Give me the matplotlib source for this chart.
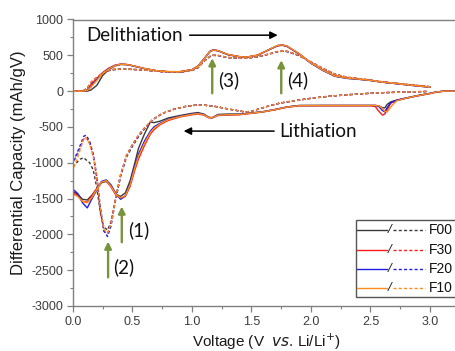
import matplotlib
matplotlib.use("Agg")
import matplotlib.pyplot as plt
from matplotlib.ticker import MultipleLocator
from matplotlib.patches import Rectangle
from matplotlib.lines import Line2D

plt.rcParams['axes.unicode_minus'] = False
plt.rcParams['font.family'] = ['Liberation Sans', 'DejaVu Sans']

# ---------------- data ----------------
series_names = ["F00", "F30", "F20", "F10"]
series_colors = ["#3a3a3a", "#ff1a1a", "#1f1fe6", "#ff8c1a"]

# solid lithiation (V descending)
v_lith_solid = [3.22, 3.12, 3.05, 3.00, 2.90, 2.80, 2.72, 2.67, 2.64, 2.62, 2.60, 2.57, 2.54, 2.50,
                2.30, 2.10, 1.90, 1.80, 1.70, 1.60, 1.50, 1.40, 1.30, 1.22, 1.17, 1.14, 1.10, 1.05,
                1.00, 0.90, 0.80, 0.73, 0.68, 0.65, 0.60, 0.55, 0.52, 0.48, 0.44, 0.40, 0.36, 0.32,
                0.28, 0.24, 0.20, 0.16, 0.12, 0.08, 0.04, 0.00]
lith_solid_F00 = [0, 0, -12, -30, -60, -95, -125, -150, -185, -235, -230, -205, -200, -200,
                  -200, -200, -200, -220, -255, -285, -305, -320, -320, -325, -370, -365, -320, -300,
                  -310, -340, -375, -420, -440, -430, -600, -800, -1000, -1250, -1420, -1470, -1440, -1330,
                  -1260, -1280, -1360, -1450, -1520, -1510, -1440, -1400]
lith_solid_F30 = [0, 0, -15, -35, -65, -100, -130, -170, -260, -320, -335, -280, -215, -205,
                  -205, -205, -205, -225, -260, -290, -310, -330, -335, -340, -375, -370, -335, -320,
                  -330, -360, -410, -470, -540, -600, -760, -950, -1100, -1330, -1470, -1500, -1450, -1340,
                  -1250, -1270, -1360, -1460, -1550, -1540, -1460, -1420]
lith_solid_F20 = [0, 0, -12, -32, -62, -97, -128, -160, -230, -290, -270, -215, -200, -200,
                  -200, -200, -202, -222, -257, -287, -307, -325, -328, -332, -372, -368, -328, -310,
                  -320, -350, -395, -450, -500, -560, -700, -880, -1050, -1300, -1460, -1510, -1430, -1310,
                  -1240, -1260, -1380, -1500, -1630, -1560, -1430, -1370]
lith_solid_F10 = [0, 0, -13, -33, -63, -98, -135, -220, -290, -280, -240, -205, -200, -200,
                  -200, -200, -203, -223, -258, -288, -308, -327, -330, -335, -373, -369, -330, -315,
                  -325, -355, -400, -460, -520, -580, -730, -910, -1070, -1310, -1460, -1490, -1440, -1330,
                  -1250, -1270, -1370, -1480, -1560, -1540, -1470, -1440]

# dashed lithiation (V descending)
v_lith_dash = [2.97, 2.80, 2.60, 2.50, 2.40, 2.30, 2.16, 2.00, 1.90, 1.80, 1.74, 1.65, 1.55, 1.50,
               1.45, 1.40, 1.30, 1.20, 1.10, 1.04, 0.95, 0.85, 0.75, 0.67, 0.60, 0.55, 0.50, 0.45,
               0.40, 0.36, 0.32, 0.29, 0.26, 0.23, 0.20, 0.17, 0.14, 0.11, 0.09, 0.06, 0.03, 0.00]
lith_dash_F00 = [-5, -12, -22, -30, -40, -52, -70, -100, -125, -150, -167, -205, -255, -280,
                 -292, -278, -248, -215, -196, -195, -212, -252, -312, -400, -530, -640, -770, -920,
                 -1190, -1500, -1820, -1940, -1900, -1700, -1350, -1100, -1000, -960, -930, -950, -1000, -1050]
lith_dash_F30 = [-5, -12, -22, -30, -40, -52, -70, -100, -125, -150, -167, -205, -255, -280,
                 -292, -278, -248, -215, -196, -195, -212, -252, -312, -398, -515, -615, -745, -895,
                 -1160, -1470, -1840, -1990, -1960, -1680, -1220, -900, -720, -650, -670, -790, -900, -1010]
lith_dash_F20 = [-5, -12, -22, -30, -40, -52, -70, -100, -125, -150, -167, -205, -255, -280,
                 -292, -278, -248, -215, -196, -195, -212, -252, -312, -398, -520, -620, -750, -900,
                 -1180, -1500, -1880, -2030, -1950, -1620, -1180, -880, -700, -615, -630, -760, -880, -990]
lith_dash_F10 = [-5, -12, -22, -30, -40, -52, -70, -100, -125, -150, -167, -205, -255, -280,
                 -292, -278, -248, -215, -196, -195, -212, -252, -312, -398, -518, -618, -748, -898,
                 -1170, -1480, -1850, -1985, -1930, -1640, -1200, -910, -740, -650, -660, -820, -970, -1100]

# delithiation (V ascending)
v_delith = [0.00, 0.08, 0.12, 0.15, 0.20, 0.25, 0.30, 0.35, 0.40, 0.45, 0.50, 0.60, 0.70, 0.80,
            0.90, 1.00, 1.05, 1.10, 1.15, 1.18, 1.22, 1.30, 1.40, 1.46, 1.55, 1.65, 1.72, 1.76,
            1.80, 1.90, 2.00, 2.10, 2.20, 2.30, 2.40, 2.50, 2.60, 2.70, 2.80, 2.90, 3.00]
delith_solid_F00 = [0, 0, 0, 15, 80, 220, 300, 350, 372, 370, 355, 315, 285, 270,
                    270, 298, 345, 445, 550, 572, 562, 510, 480, 474, 500, 580, 635, 642,
                    625, 520, 390, 290, 210, 180, 167, 150, 125, 108, 90, 72, 56]
delith_solid_F30 = [0, 0, 20, 90, 180, 260, 320, 360, 378, 372, 355, 315, 285, 272,
                    272, 300, 350, 450, 555, 578, 565, 512, 482, 476, 502, 582, 632, 640,
                    622, 520, 395, 295, 215, 185, 170, 152, 128, 110, 92, 75, 58]
delith_solid_F20 = [0, 0, 10, 60, 160, 250, 315, 358, 375, 371, 354, 314, 284, 270,
                    270, 300, 348, 448, 555, 575, 563, 510, 478, 472, 500, 582, 636, 644,
                    626, 522, 388, 288, 208, 178, 165, 148, 124, 107, 88, 70, 55]
delith_solid_F10 = [0, 0, 10, 55, 150, 245, 310, 355, 376, 372, 356, 316, 286, 272,
                    272, 300, 348, 447, 552, 574, 565, 512, 480, 476, 502, 583, 638, 645,
                    628, 525, 392, 292, 212, 182, 168, 150, 126, 109, 90, 73, 56]
delith_dash_F00 = [0, 0, 25, 90, 170, 240, 285, 300, 305, 305, 303, 293, 278, 265,
                   264, 288, 325, 415, 480, 498, 496, 468, 458, 460, 478, 518, 550, 556,
                   552, 495, 405, 315, 235, 192, 172, 152, 127, 110, 92, 76, 60]
delith_dash_F30 = [0, 0, 45, 125, 195, 255, 292, 306, 308, 306, 304, 294, 279, 266,
                   265, 290, 330, 420, 485, 502, 498, 470, 460, 462, 480, 520, 552, 558,
                   555, 498, 408, 318, 238, 195, 175, 155, 130, 112, 94, 78, 62]
delith_dash_F20 = [0, 0, 35, 110, 185, 250, 290, 304, 307, 305, 303, 293, 278, 265,
                   264, 289, 328, 418, 484, 501, 497, 469, 459, 461, 479, 519, 552, 557,
                   554, 497, 406, 316, 236, 194, 173, 153, 128, 111, 93, 77, 61]
delith_dash_F10 = [0, 0, 40, 120, 190, 252, 290, 305, 308, 306, 304, 294, 279, 266,
                   265, 290, 329, 419, 485, 502, 498, 470, 460, 462, 480, 520, 553, 558,
                   555, 498, 407, 317, 237, 195, 174, 154, 129, 112, 93, 77, 61]

lith_solid = [lith_solid_F00, lith_solid_F30, lith_solid_F20, lith_solid_F10]
lith_dash = [lith_dash_F00, lith_dash_F30, lith_dash_F20, lith_dash_F10]
delith_solid = [delith_solid_F00, delith_solid_F30, delith_solid_F20, delith_solid_F10]
delith_dash = [delith_dash_F00, delith_dash_F30, delith_dash_F20, delith_dash_F10]

x_ticks = [0.0, 0.5, 1.0, 1.5, 2.0, 2.5, 3.0]
y_ticks = [-3000, -2500, -2000, -1500, -1000, -500, 0, 500, 1000]

# ---------------- figure ----------------
W, H = 456, 351
fig = plt.figure(figsize=(W / 100, H / 100), dpi=100)
ax_left, ax_right, ax_top, ax_bot = 73, 459.75, 19.5, 306
ax = fig.add_axes([ax_left / W, 1 - ax_bot / H, (ax_right - ax_left) / W, (ax_bot - ax_top) / H])

dash = (0, (2.2, 1.6))
for i, name in enumerate(series_names):
    c = series_colors[i]
    ax.plot(v_lith_solid, lith_solid[i], color=c, lw=1.0)
    ax.plot(v_delith, delith_solid[i], color=c, lw=1.0)
    ax.plot(v_lith_dash, lith_dash[i], color=c, lw=1.0, linestyle=dash)
    ax.plot(v_delith, delith_dash[i], color=c, lw=1.0, linestyle=dash)

ax.set_xlim(0, 3.25)
ax.set_ylim(-3000, 1000)
ax.set_xticks(x_ticks)
ax.set_xticklabels([f"{t:.1f}" for t in x_ticks])
ax.set_yticks(y_ticks)
ax.set_yticklabels([str(t) for t in y_ticks])
ax.xaxis.set_minor_locator(MultipleLocator(0.25))
ax.yaxis.set_minor_locator(MultipleLocator(250))

spine_c = "#808080"
for s in ax.spines.values():
    s.set_color(spine_c)
    s.set_linewidth(1.0)
ax.tick_params(which='major', direction='out', length=4, width=0.9, color=spine_c,
               labelsize=9, labelcolor="#3c3c3c", pad=3)
ax.tick_params(which='minor', direction='out', length=2.5, width=0.8, color=spine_c)

ax.set_ylabel("Differential Capacity (mAh/gV)", fontsize=12, color="#1a1a1a", labelpad=4)
ax.set_xlabel(r"Voltage (V  $\it{vs}$. Li/Li$^{+}$)", fontsize=11, color="#1a1a1a", labelpad=3)

# ---------------- annotations ----------------
afont = dict(family=['Lato', 'DejaVu Sans'], color="#111111")
ax.text(0.11, 781, "Delithiation", fontsize=13.5, va='center', ha='left', **afont)
ax.annotate("", xy=(1.72, 781), xytext=(0.98, 781),
            arrowprops=dict(arrowstyle='-|>', color='black', lw=1.1, mutation_scale=11,
                            shrinkA=0, shrinkB=0))
ax.text(1.73, -558, "Lithiation", fontsize=13.5, va='center', ha='left', **afont)
ax.annotate("", xy=(0.93, -558), xytext=(1.69, -558),
            arrowprops=dict(arrowstyle='-|>', color='black', lw=1.1, mutation_scale=11,
                            shrinkA=0, shrinkB=0))

green = "#77933c"
marks = [("(1)", 0.41, -2110, -1610, 0.46, -1940),
         ("(2)", 0.295, -2600, -2100, 0.34, -2455),
         ("(3)", 1.17, -30, 460, 1.22, 153),
         ("(4)", 1.75, -30, 432, 1.80, 153)]
for lab, xv, y0, y1, tx, ty in marks:
    ax.annotate("", xy=(xv, y1), xytext=(xv, y0),
                arrowprops=dict(arrowstyle='-|>', color=green, lw=1.7, mutation_scale=10,
                                shrinkA=0, shrinkB=0))
    ax.text(tx, ty, lab, fontsize=13.5, va='center', ha='left', **afont)

# ---------------- legend (manual, figure pixels) ----------------
def fx(px):
    return px / W

def fy(py):
    return 1 - py / H

fig.patches.append(Rectangle((fx(356), fy(297)), fx(470) - fx(356), fy(220) - fy(297),
                             transform=fig.transFigure, fill=True, facecolor='white',
                             edgecolor="#555555", lw=1.0, zorder=5))
rows_y = [230, 250, 269, 288]
for i, name in enumerate(series_names):
    yy = fy(rows_y[i])
    fig.lines.append(Line2D([fx(357), fx(387)], [yy, yy], color=series_colors[i], lw=1.0,
                            transform=fig.transFigure, zorder=6))
    fig.text(fx(390), yy, "/", fontsize=9.5, ha='center', va='center', color="#222222",
             style='italic', zorder=6)
    fig.lines.append(Line2D([fx(393), fx(425)], [yy, yy], color=series_colors[i], lw=1.0,
                            linestyle=dash, transform=fig.transFigure, zorder=6))
    fig.text(fx(429), yy, name, fontsize=10, ha='left', va='center', color="#111111", zorder=6)

fig.savefig("out.png", dpi=100)
